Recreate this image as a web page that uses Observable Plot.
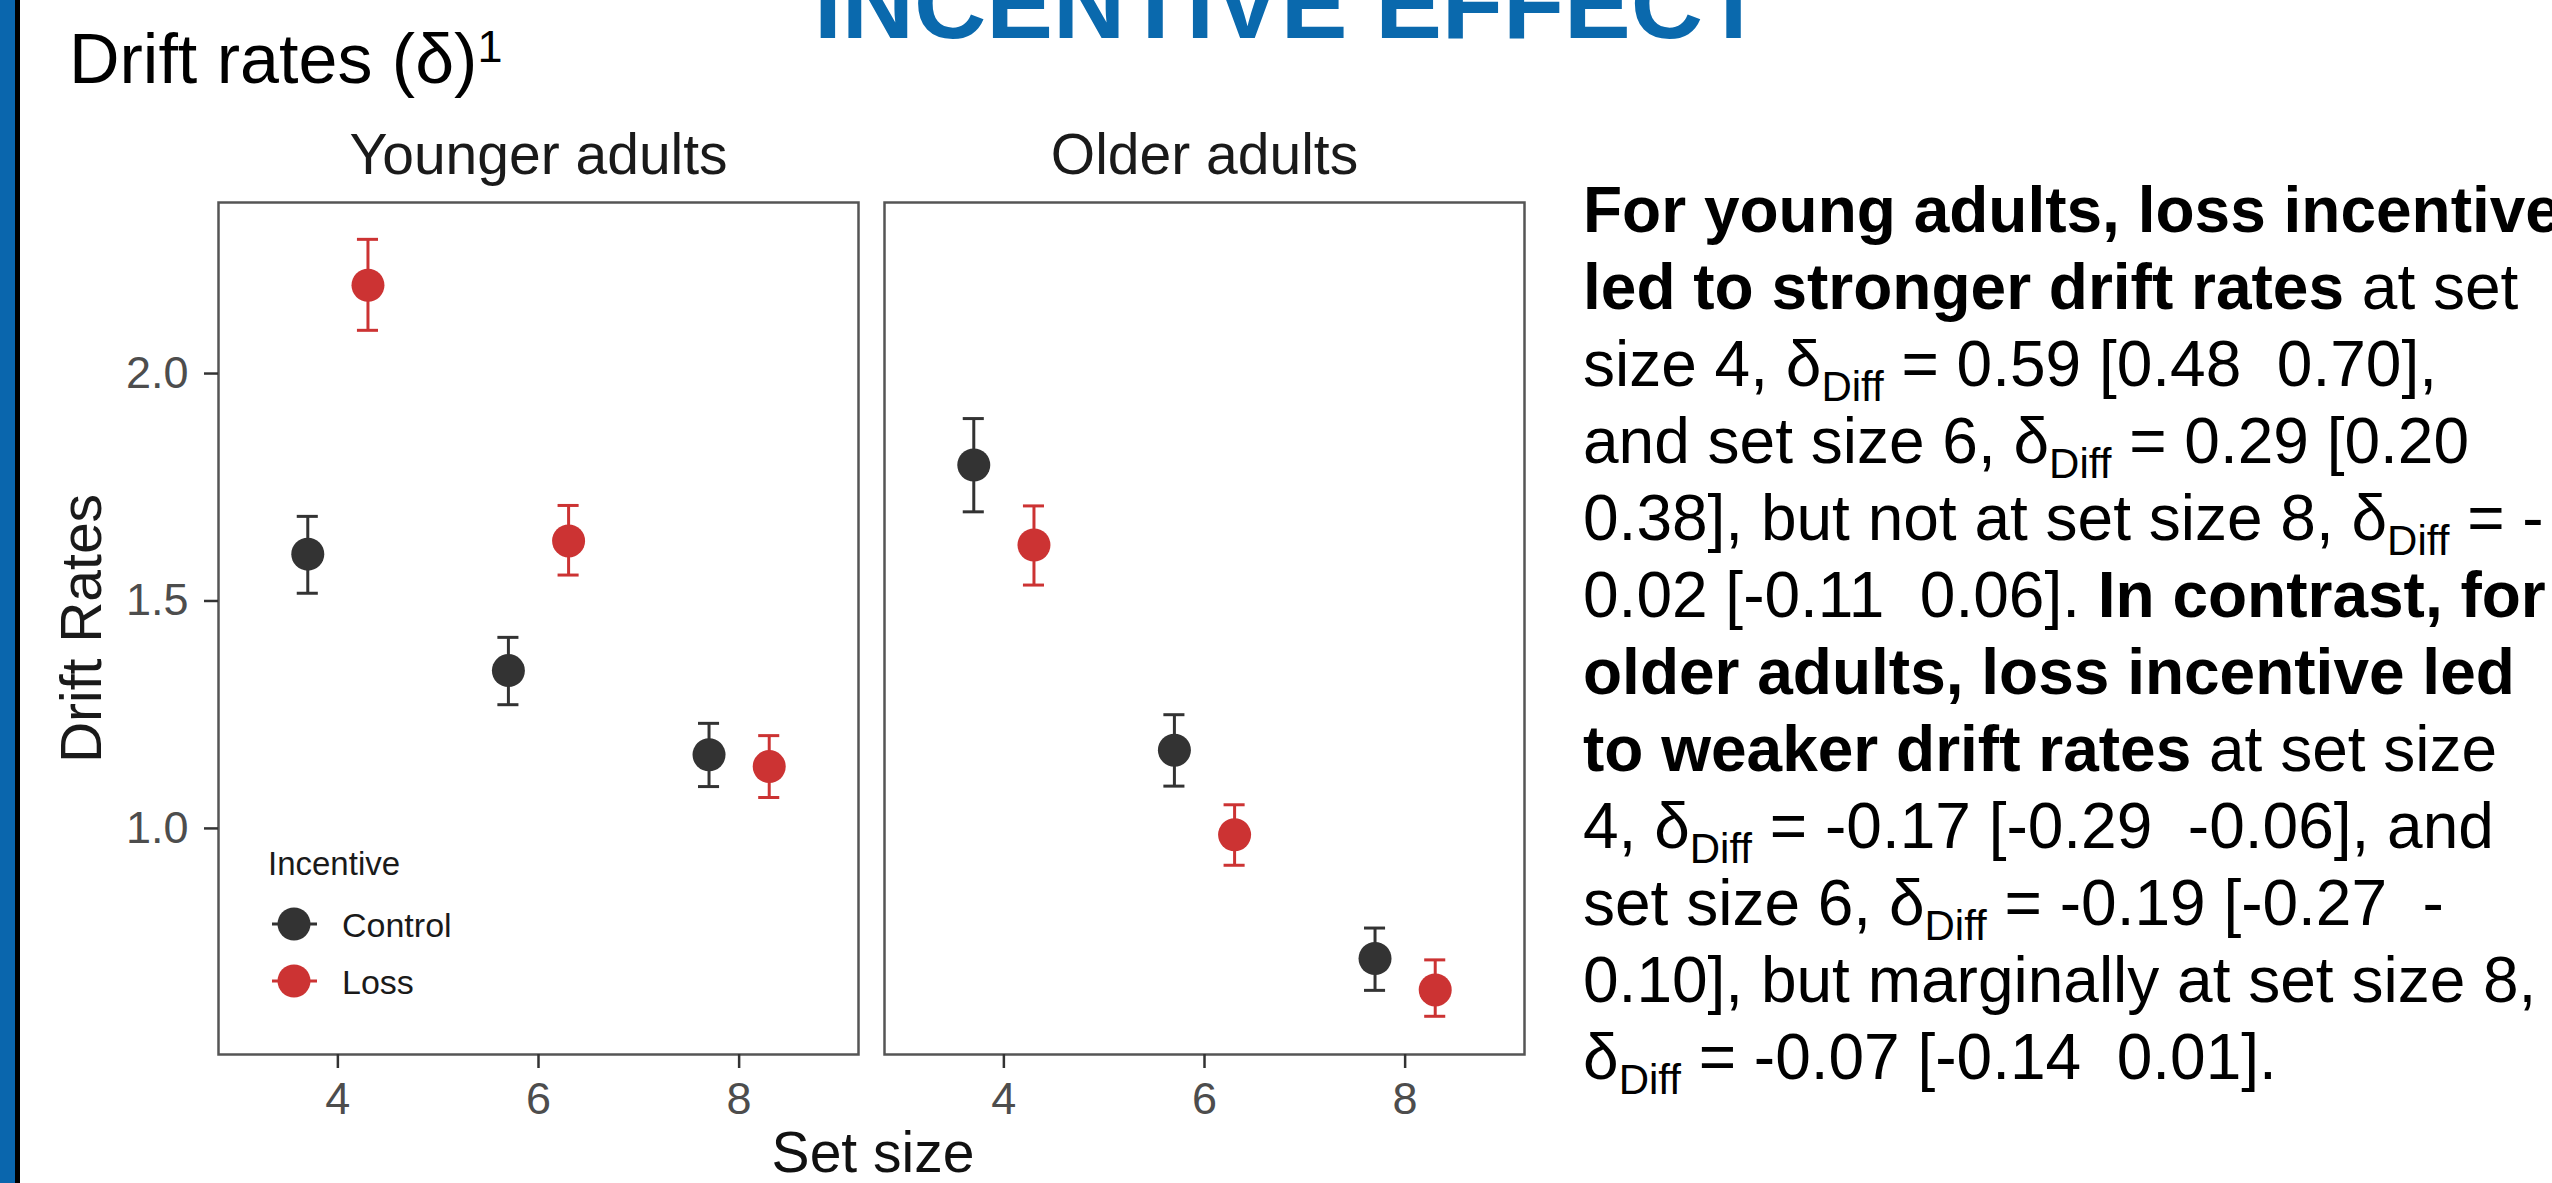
<!DOCTYPE html>
<html>
<head>
<meta charset="utf-8">
<script src="https://cdn.jsdelivr.net/npm/d3@7"></script>
<script src="https://cdn.jsdelivr.net/npm/@observablehq/plot@0.6"></script>
<style>
  html, body { margin: 0; padding: 0; background: #fff; }
  body { width: 2552px; height: 1183px; overflow: hidden; position: relative; font-family: "Liberation Sans", Arial, sans-serif; }
  #chart { position: absolute; left: 0; top: 0; }
  #overlay { position: absolute; left: 0; top: 0; pointer-events: none; }
  #overlay text { white-space: pre; }
</style>
</head>
<body>
<div id="chart"></div>
<svg id="overlay" width="2552" height="1183"></svg>
<script>
// ---------------- data ----------------
const ageGroups = ["Younger adults", "Older adults"];
const setSizes = [4, 6, 8];
const incentives = ["Control", "Loss"];
const incentiveColors = ["#333333", "#cc3333"];

const youngerControlMean = [1.603, 1.347, 1.162];
const youngerControlLow  = [1.517, 1.272, 1.092];
const youngerControlHigh = [1.686, 1.420, 1.231];
const youngerLossMean    = [2.194, 1.632, 1.136];
const youngerLossLow     = [2.095, 1.557, 1.068];
const youngerLossHigh    = [2.295, 1.710, 1.204];

const olderControlMean = [1.799, 1.172, 0.714];
const olderControlLow  = [1.696, 1.093, 0.644];
const olderControlHigh = [1.901, 1.250, 0.781];
const olderLossMean    = [1.623, 0.986, 0.645];
const olderLossLow     = [1.535, 0.919, 0.587];
const olderLossHigh    = [1.709, 1.052, 0.711];

const yTicks = [1.0, 1.5, 2.0];
const xTicks = [4, 6, 8];

const chartTitle = "INCENTIVE EFFECT";
const sectionTitle = "Drift rates (δ)";
const sectionSup = "1";
const xLabel = "Set size";
const yLabel = "Drift Rates";
const legendTitle = "Incentive";

const textLines = [
  [["For young adults, loss incentive", "b"]],
  [["led to stronger drift rates", "b"], [" at set", ""]],
  [["size 4, δ", ""], ["Diff", "s"], [" = 0.59 [0.48  0.70],", ""]],
  [["and set size 6, δ", ""], ["Diff", "s"], [" = 0.29 [0.20", ""]],
  [["0.38], but not at set size 8, δ", ""], ["Diff", "s"], [" = -", ""]],
  [["0.02 [-0.11  0.06]. ", ""], ["In contrast, for", "b"]],
  [["older adults, loss incentive led", "b"]],
  [["to weaker drift rates", "b"], [" at set size", ""]],
  [["4, δ", ""], ["Diff", "s"], [" = -0.17 [-0.29  -0.06], and", ""]],
  [["set size 6, δ", ""], ["Diff", "s"], [" = -0.19 [-0.27  -", ""]],
  [["0.10], but marginally at set size 8,", ""]],
  [["δ", ""], ["Diff", "s"], [" = -0.07 [-0.14  0.01].", ""]]
];

// ---------------- table ----------------
const series = [
  ["Younger adults", "Control", youngerControlMean, youngerControlLow, youngerControlHigh],
  ["Younger adults", "Loss", youngerLossMean, youngerLossLow, youngerLossHigh],
  ["Older adults", "Control", olderControlMean, olderControlLow, olderControlHigh],
  ["Older adults", "Loss", olderLossMean, olderLossLow, olderLossHigh]
];
const rows = [];
for (const [age, inc, m, lo, hi] of series) {
  setSizes.forEach((s, i) => rows.push({age, inc, set: s, mean: m[i], lo: lo[i], hi: hi[i]}));
}
const dodge = 0.3;     // position_dodge half-width in set-size units
const capHalf = 0.105; // errorbar cap half-width in set-size units
const xd = d => d.set + (d.inc === "Loss" ? dodge : -dodge);

const FONT = "'Liberation Sans', Arial, Helvetica, sans-serif";

const plot = Plot.plot({
  width: 1540,
  height: 1183,
  marginLeft: 218,
  marginRight: 15,
  marginTop: 202,
  marginBottom: 129,
  style: {fontFamily: FONT, background: "none", overflow: "visible"},
  fx: {domain: ageGroups, paddingInner: 0.039, paddingOuter: 0, label: null},
  x: {domain: [2.81, 9.19]},
  y: {domain: [0.503, 2.376]},
  color: {domain: incentives, range: incentiveColors},
  marks: [
    Plot.frame({stroke: "#555555", strokeWidth: 2.5}),
    Plot.axisFx({anchor: "top", tickSize: 0, tickPadding: 29, fontSize: 57, fill: "#1a1a1a", label: null}),
    Plot.axisY({ticks: yTicks, tickFormat: d => d.toFixed(1), tickSize: 14, tickPadding: 16,
      fontSize: 45, fill: "#4d4d4d", stroke: "#333333", strokeWidth: 2.5, label: null}),
    Plot.axisY({ticks: [], label: yLabel, labelAnchor: "center", labelOffset: 158, labelArrow: "none",
      fontSize: 57, fill: "#1a1a1a"}),
    Plot.axisX({ticks: xTicks, tickFormat: d => String(d), tickSize: 14, tickPadding: 14, fontSize: 45,
      fill: "#4d4d4d", stroke: "#333333", strokeWidth: 2.5, label: null}),
    Plot.ruleX(rows, {fx: "age", x: xd, y1: "lo", y2: "hi", stroke: "inc", strokeWidth: 3}),
    Plot.ruleY(rows, {fx: "age", y: "hi", x1: d => xd(d) - capHalf, x2: d => xd(d) + capHalf, stroke: "inc", strokeWidth: 3}),
    Plot.ruleY(rows, {fx: "age", y: "lo", x1: d => xd(d) - capHalf, x2: d => xd(d) + capHalf, stroke: "inc", strokeWidth: 3}),
    Plot.dot(rows, {fx: "age", x: xd, y: "mean", fill: "inc", r: 16.5})
  ]
});
document.getElementById("chart").appendChild(plot);

// ---------------- overlay: frame decoration, titles, legend, text ----------------
const ov = d3.select("#overlay").style("font-family", FONT);

ov.append("rect").attr("x", 0).attr("y", 0).attr("width", 15).attr("height", 1183).attr("fill", "#0a66ad");
ov.append("rect").attr("x", 15).attr("y", 0).attr("width", 5).attr("height", 1183).attr("fill", "#000");

ov.append("text").attr("x", 1289).attr("y", 38).attr("text-anchor", "middle")
  .attr("font-size", 100).attr("font-weight", "bold").attr("fill", "#0a69ad").text(chartTitle);

const st = ov.append("text").attr("x", 69).attr("y", 83).attr("font-size", 70).attr("fill", "#000");
st.append("tspan").text(sectionTitle);
st.append("tspan").attr("font-size", 45).attr("dy", -21).text(sectionSup);

ov.append("text").attr("x", 873).attr("y", 1172).attr("text-anchor", "middle")
  .attr("font-size", 57).attr("fill", "#111").text(xLabel);

// legend
ov.append("text").attr("x", 268).attr("y", 875).attr("font-size", 33).attr("fill", "#1a1a1a").text(legendTitle);
incentives.forEach((name, i) => {
  const cy = 924 + i * 57;
  const g = ov.append("g");
  g.append("line").attr("x1", 272).attr("x2", 317).attr("y1", cy).attr("y2", cy)
    .attr("stroke", incentiveColors[i]).attr("stroke-width", 3);
  g.append("circle").attr("cx", 294).attr("cy", cy).attr("r", 16.5).attr("fill", incentiveColors[i]);
  g.append("text").attr("x", 342).attr("y", cy + 13).attr("font-size", 34).attr("fill", "#1a1a1a").text(name);
});

// paragraph
textLines.forEach((segs, i) => {
  const t = ov.append("text").attr("x", 1583).attr("y", 232 + i * 77).attr("font-size", 64).attr("fill", "#000");
  let shifted = false;
  segs.forEach(([s, kind]) => {
    const sp = t.append("tspan").text(s);
    if (kind === "b") sp.attr("font-weight", "bold");
    if (kind === "s") { sp.attr("font-size", 42).attr("dy", 15); shifted = true; }
    else if (shifted) { sp.attr("dy", -15); shifted = false; }
  });
});
</script>
</body>
</html>
